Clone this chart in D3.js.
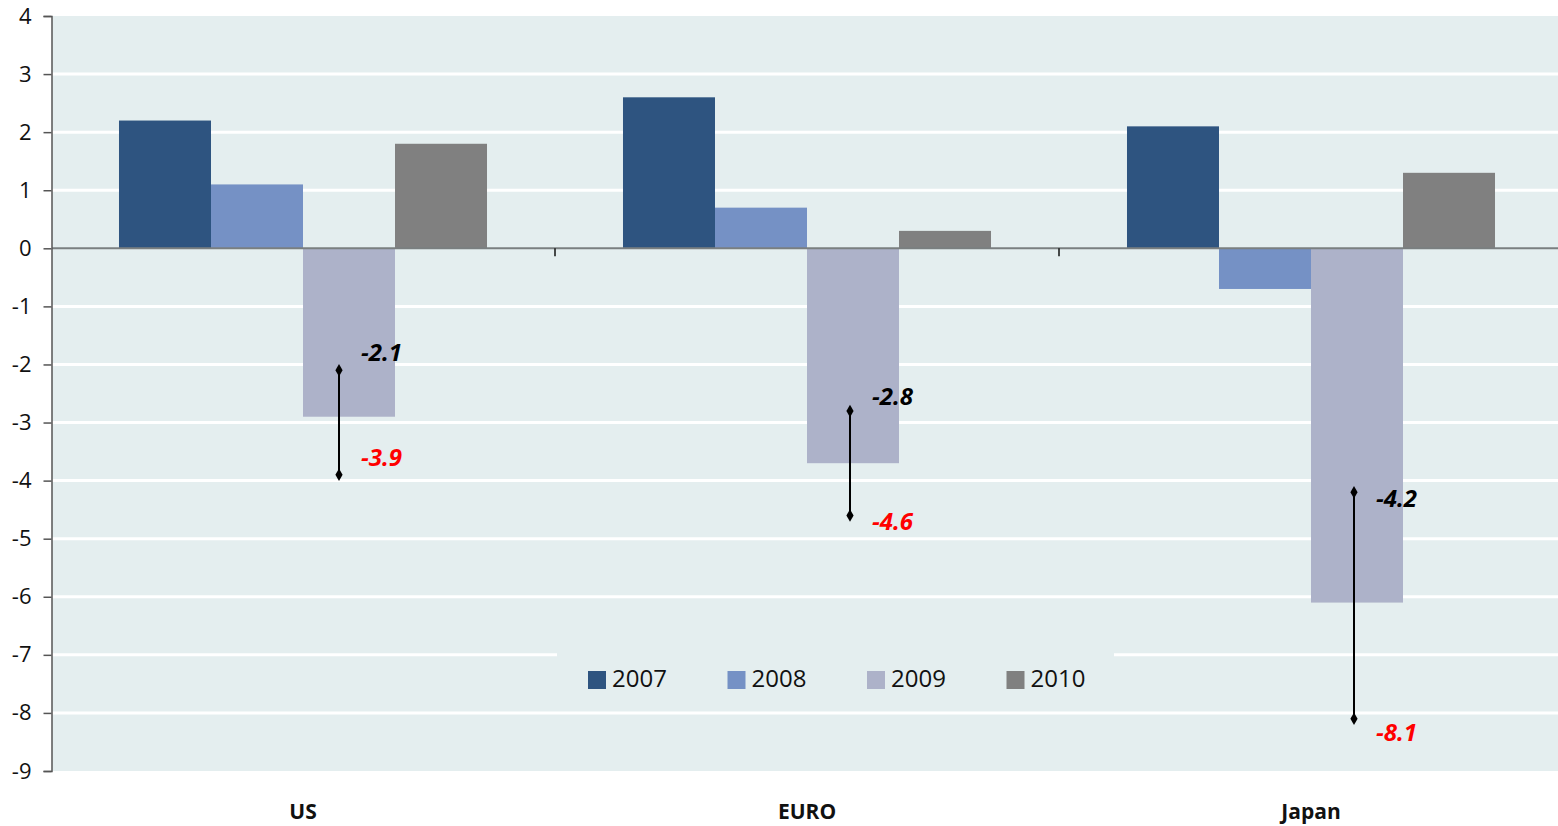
<!DOCTYPE html>
<html>
<head>
<meta charset="utf-8">
<script src="https://cdn.jsdelivr.net/npm/d3@7/dist/d3.min.js"></script>
<style>
  html, body { margin: 0; padding: 0; background: #ffffff; }
  svg { display: block; font-family: "Open Sans", "Noto Sans", sans-serif; }
</style>
</head>
<body>
<svg id="chart" width="1558" height="826"></svg>
<script>
// Regions and years
const categories = ["US", "EURO", "Japan"];
const years = ["2007", "2008", "2009", "2010"];

// Growth per year, one array per region
const usValues = [2.2, 1.1, -2.9, 1.8];
const euroValues = [2.6, 0.7, -3.7, 0.3];
const japanValues = [2.1, -0.7, -6.1, 1.3];

// 2009 forecast range per region: upper and lower estimate
const rangeHigh = [-2.1, -2.8, -4.2];
const rangeLow = [-3.9, -4.6, -8.1];

// y axis ticks
const yTicks = [4, 3, 2, 1, 0, -1, -2, -3, -4, -5, -6, -7, -8, -9];

const seriesByRegion = [usValues, euroValues, japanValues];
const colors = ["#2e5480", "#7591c5", "#adb2c9", "#808080"];

const svg = d3.select("#chart");
const W = 1558, H = 826;
const plotLeft = 52, plotRight = 1558, plotTop = 16, plotBottom = 771;

const y = d3.scaleLinear().domain([-9, 4]).range([plotBottom, plotTop]);
// category bands are slightly wider than the visible plot; the last one runs off the right edge
const x0 = d3.scaleBand().domain(categories).range([51, 1563]).padding(0);
const x1 = d3.scaleBand().domain(years).range([0, x0.bandwidth()]).paddingInner(0).paddingOuter(0.739);

// plot background
svg.append("rect")
  .attr("x", plotLeft).attr("y", y(4))
  .attr("width", plotRight - plotLeft)
  .attr("height", y(-9) - y(4))
  .attr("fill", "#e4eeef");

// gridlines
svg.append("g").selectAll("line")
  .data(yTicks.filter(d => d !== 4 && d !== -9 && d !== 0))
  .join("line")
  .attr("x1", plotLeft).attr("x2", plotRight)
  .attr("y1", d => y(d)).attr("y2", d => y(d))
  .attr("stroke", "#ffffff").attr("stroke-width", 3);

// bars
const rows = [];
categories.forEach((c, i) => years.forEach((yr, j) => rows.push({ c, yr, j, v: seriesByRegion[i][j] })));
svg.append("g").selectAll("rect")
  .data(rows)
  .join("rect")
  .attr("x", d => x0(d.c) + x1(d.yr))
  .attr("width", x1.bandwidth())
  .attr("y", d => y(Math.max(0, d.v)))
  .attr("height", d => Math.abs(y(d.v) - y(0)))
  .attr("fill", d => colors[d.j]);

// zero line with category separators
svg.append("line")
  .attr("x1", plotLeft).attr("x2", plotRight)
  .attr("y1", y(0)).attr("y2", y(0))
  .attr("stroke", "#7a7f80").attr("stroke-width", 2);
svg.append("g").selectAll("line")
  .data(categories.slice(1))
  .join("line")
  .attr("x1", d => x0(d)).attr("x2", d => x0(d))
  .attr("y1", y(0)).attr("y2", y(0) + 8)
  .attr("stroke", "#111").attr("stroke-width", 1.5);

// left axis
const yAxis = d3.axisLeft(y).tickValues(yTicks).tickSize(8).tickPadding(12).tickFormat(d3.format("d"));
const ga = svg.append("g").attr("transform", `translate(${plotLeft - 0.5},0)`).call(yAxis);
ga.select(".domain").attr("stroke", "#555").attr("stroke-width", 1.5);
ga.selectAll(".tick line").attr("stroke", "#555").attr("stroke-width", 1.5);
ga.selectAll(".tick text")
  .attr("font-size", 22).attr("fill", "#111")
  .attr("font-family", "'Open Sans', sans-serif")
  .text(d => d < 0 ? "-" + Math.abs(d) : d);

// category labels
svg.append("g").selectAll("text")
  .data(categories)
  .join("text")
  .attr("x", d => x0(d) + x0.bandwidth() / 2)
  .attr("y", 813)
  .attr("text-anchor", "middle").attr("dominant-baseline", "middle")
  .attr("font-size", 21).attr("font-weight", "bold").attr("fill", "#111")
  .text(d => d);

// legend panel
const legendG = svg.append("g");
legendG.append("rect")
  .attr("x", 557).attr("y", 642).attr("width", 557).attr("height", 64)
  .attr("fill", "#e4eeef");
const legendItem = legendG.selectAll("g.item")
  .data(years)
  .join("g")
  .attr("class", "item")
  .attr("transform", (d, i) => `translate(${588 + i * 139.5},671)`);
legendItem.append("rect")
  .attr("width", 18).attr("height", 18)
  .attr("fill", (d, i) => colors[i]);
legendItem.append("text")
  .attr("x", 24).attr("y", 9.5)
  .attr("dominant-baseline", "middle")
  .attr("font-size", 24).attr("fill", "#111")
  .text(d => d);

// 2009 forecast ranges
const lineOffset = [36, 43, 43];
const highNudge = [-16, -12, 8];
const lowNudge = [-15, 8, 16];
const rangeG = svg.append("g");
categories.forEach((c, i) => {
  const lx = x0(c) + x1("2009") + lineOffset[i];
  rangeG.append("line")
    .attr("x1", lx).attr("x2", lx)
    .attr("y1", y(rangeHigh[i])).attr("y2", y(rangeLow[i]))
    .attr("stroke", "#000").attr("stroke-width", 2);
  [rangeHigh[i], rangeLow[i]].forEach(v => {
    rangeG.append("path")
      .attr("d", d3.symbol(d3.symbolDiamond, 45)())
      .attr("transform", `translate(${lx},${y(v)})`)
      .attr("fill", "#000");
  });
  rangeG.append("text")
    .attr("x", lx + 22).attr("y", y(rangeHigh[i]) + highNudge[i])
    .attr("dominant-baseline", "middle")
    .attr("font-size", 24).attr("font-weight", "bold").attr("font-style", "italic")
    .attr("fill", "#000")
    .text(rangeHigh[i].toFixed(1));
  rangeG.append("text")
    .attr("x", lx + 22).attr("y", y(rangeLow[i]) + lowNudge[i])
    .attr("dominant-baseline", "middle")
    .attr("font-size", 24).attr("font-weight", "bold").attr("font-style", "italic")
    .attr("fill", "#ff0000")
    .text(rangeLow[i].toFixed(1));
});
</script>
</body>
</html>
